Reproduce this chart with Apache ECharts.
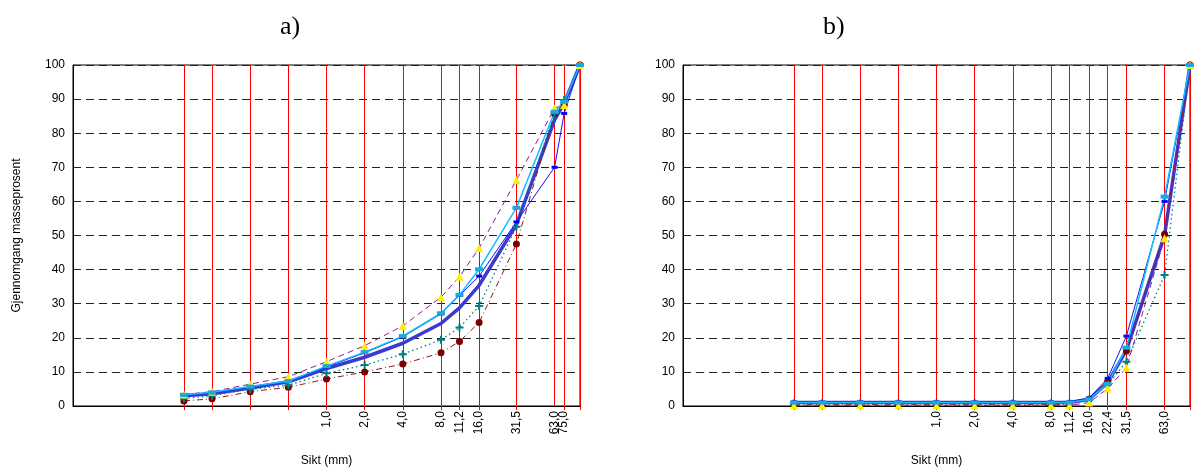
<!DOCTYPE html>
<html>
<head>
<meta charset="utf-8">
<script src="https://cdn.jsdelivr.net/npm/echarts@6/dist/echarts.min.js"></script>
<style>
  html, body { margin: 0; padding: 0; background: #fff; }
  #chart { width: 1197px; height: 468px; }
</style>
</head>
<body>
<div id="chart"></div>
<script>
// sieve sizes (mm)
var sievesA = [0.075, 0.125, 0.25, 0.5, 1, 2, 4, 8, 11.2, 16, 31.5, 63, 75, 100]
var sievesB = [0.075, 0.125, 0.25, 0.5, 1, 2, 4, 8, 11.2, 16, 22.4, 31.5, 63, 100]

// labelled sieves
var tickValsA = [1, 2, 4, 8, 11.2, 16, 31.5, 63, 75]
var tickLabelsA = ['1,0', '2,0', '4,0', '8,0', '11,2', '16,0', '31,5', '63,0', '75,0']
var tickValsB = [1, 2, 4, 8, 11.2, 16, 22.4, 31.5, 63]
var tickLabelsB = ['1,0', '2,0', '4,0', '8,0', '11,2', '16,0', '22,4', '31,5', '63,0']

// a) passing (%)
var yellowA = [3.4, 4.2, 6.4, 8.6, 13.0, 17.7, 23.5, 31.9, 37.9, 46.3, 66.3, 87.3, 88.3, 100]
var cyanA = [3.3, 4.0, 5.7, 7.3, 11.7, 15.8, 20.5, 27.2, 32.6, 40.1, 58.1, 86.3, 89.2, 100]
var blueA = [3.2, 3.9, 5.6, 7.2, 11.5, 15.6, 20.3, 27.0, 32.4, 38.1, 54.0, 70.0, 85.8, 100]
var thickA = [3.0, 3.6, 5.3, 7.1, 11.0, 14.3, 18.4, 24.2, 28.8, 35.4, 53.2, 83.9, 88.8, 100]
var tealA = [2.2, 3.0, 4.9, 6.1, 9.6, 12.0, 15.2, 19.4, 23.0, 29.3, 52.6, 85.8, 89.7, 100]
var redA = [1.5, 2.1, 4.2, 5.5, 7.9, 10.0, 12.3, 15.6, 18.9, 24.5, 47.5, 85.8, 88.3, 100]

// b) passing (%)
var yellowB = [0.2, 0.2, 0.2, 0.2, 0.2, 0.2, 0.2, 0.2, 0.2, 1.0, 5.1, 11.2, 49.2, 100]
var cyanB = [1.0, 1.0, 1.0, 1.0, 1.0, 1.0, 1.0, 1.0, 1.0, 2.0, 6.5, 17.1, 61.4, 100]
var blueB = [1.2, 1.2, 1.2, 1.2, 1.2, 1.2, 1.2, 1.2, 1.2, 2.3, 8.1, 20.5, 60.0, 100]
var thickB = [1.0, 1.0, 1.0, 1.0, 1.0, 1.0, 1.0, 1.0, 1.0, 2.0, 6.8, 16.4, 50.1, 100]
var tealB = [0.8, 0.8, 0.8, 0.8, 0.8, 0.8, 0.8, 0.8, 0.8, 1.8, 6.2, 13.0, 38.4, 100]
var redB = [0.5, 0.5, 0.5, 0.5, 0.5, 0.5, 0.5, 0.5, 0.5, 2.0, 7.1, 16.1, 50.4, 100]

var FONT = 'Liberation Sans, Arial, sans-serif'
var SERIF = 'Liberation Serif, Times New Roman, serif'
var PLUS = 'path://M3,0h2v3h3v2h-3v3h-2v-3h-3v-2h3z'

function pairs (xs, ys) {
  return xs.map(function (x, i) { return [x, ys[i]] })
}

function curves (idx, sieves, yellow, cyan, blue, thick, teal, red) {
  var base = { type: 'line', xAxisIndex: idx, yAxisIndex: idx, animation: false, silent: true, z: 3 }
  return [
    Object.assign({}, base, {
      data: pairs(sieves, thick), showSymbol: false, symbol: 'none',
      lineStyle: { color: '#3a3ad0', width: 3.5 }
    }),
    Object.assign({}, base, {
      data: pairs(sieves, red), symbol: 'circle', symbolSize: 7,
      itemStyle: { color: '#7a0000' },
      lineStyle: { color: '#8b1a1a', width: 1, type: [6, 3, 1, 3] }
    }),
    Object.assign({}, base, {
      data: pairs(sieves, teal), symbol: PLUS, symbolSize: 8,
      itemStyle: { color: '#008080' },
      lineStyle: { color: '#008080', width: 1.3, type: [1.5, 3] }
    }),
    Object.assign({}, base, {
      data: pairs(sieves, yellow), symbol: 'triangle', symbolSize: 8,
      itemStyle: { color: '#ffee00' },
      lineStyle: { color: '#8a1a9a', width: 1, type: [6, 4] }
    }),
    Object.assign({}, base, {
      data: pairs(sieves, blue), symbol: 'rect', symbolSize: [6, 3],
      itemStyle: { color: '#0000ff' },
      lineStyle: { color: '#1010ff', width: 1 }
    }),
    Object.assign({}, base, {
      data: pairs(sieves, cyan), symbol: 'rect', symbolSize: [8, 4],
      itemStyle: { color: '#1aa8e0' },
      lineStyle: { color: '#10c0ff', width: 1.5 }
    })
  ]
}

function tickLabel (vals, labels) {
  return function (v) {
    for (var i = 0; i < vals.length; i++) {
      if (Math.abs(vals[i] - v) < 1e-6 * vals[i]) return labels[i]
    }
    return ''
  }
}

function xAx (idx, sieves, vals, labels) {
  return {
    type: 'log', logBase: 10, min: 0.01, max: 100, gridIndex: idx,
    name: 'Sikt (mm)', nameLocation: 'middle', nameGap: 49,
    nameTextStyle: { fontFamily: FONT, fontSize: 12, color: '#000' },
    axisLine: { lineStyle: { color: '#000', width: 1 } },
    axisTick: {
      show: true, length: 4, customValues: sieves,
      lineStyle: { color: '#ff0000', width: 1 }
    },
    axisLabel: {
      show: true, customValues: vals, rotate: 90, margin: 5,
      hideOverlap: false, showMinLabel: true, showMaxLabel: true,
      fontFamily: FONT, fontSize: 12, color: '#000',
      formatter: tickLabel(vals, labels)
    },
    splitLine: { show: true, lineStyle: { color: '#ff0000', width: 1, type: 'solid' } }
  }
}

// label-only axis, so labels that sit close together are all drawn
function xLabelAx (idx, vals, labels) {
  return {
    type: 'log', logBase: 10, min: 0.01, max: 100, gridIndex: idx, position: 'bottom',
    axisLine: { show: false },
    axisTick: { show: false },
    splitLine: { show: false },
    axisLabel: {
      show: true, customValues: vals, rotate: 90, margin: 5,
      fontFamily: FONT, fontSize: 12, color: '#000',
      formatter: tickLabel(vals, labels)
    }
  }
}

function yAx (idx, name) {
  return {
    type: 'value', min: 0, max: 100, interval: 10, gridIndex: idx,
    name: name, nameLocation: 'middle', nameGap: 50,
    nameTextStyle: { fontFamily: FONT, fontSize: 12, color: '#000' },
    axisLine: { show: true, lineStyle: { color: '#000', width: 1 } },
    axisTick: { show: false },
    axisLabel: { fontFamily: FONT, fontSize: 12, color: '#000', margin: 8 },
    splitLine: { show: true, lineStyle: { color: '#222', width: 1, type: [8, 5] } }
  }
}

var myChart = echarts.init(document.getElementById('chart'))
var option = {
  backgroundColor: '#fff',
  animation: false,
  title: [
    { text: 'a)', left: 275, top: 9, textStyle: { fontFamily: SERIF, fontSize: 26, fontWeight: 'normal', color: '#000' } },
    { text: 'b)', left: 818, top: 9, textStyle: { fontFamily: SERIF, fontSize: 26, fontWeight: 'normal', color: '#000' } }
  ],
  grid: [
    { left: 73, right: 617, top: 65, bottom: 62, outerBoundsMode: 'none', show: true, borderColor: '#000', borderWidth: 1 },
    { left: 683, right: 7, top: 65, bottom: 62, outerBoundsMode: 'none', show: true, borderColor: '#000', borderWidth: 1 }
  ],
  xAxis: [
    xAx(0, sievesA, tickValsA, tickLabelsA),
    xAx(1, sievesB, tickValsB, tickLabelsB),
    xLabelAx(0, [63], ['63,0'])
  ],
  yAxis: [yAx(0, 'Gjennomgang masseprosent'), yAx(1, '')],
  series: []
    .concat(curves(0, sievesA, yellowA, cyanA, blueA, thickA, tealA, redA))
    .concat(curves(1, sievesB, yellowB, cyanB, blueB, thickB, tealB, redB))
}
myChart.setOption(option)
window.addEventListener('resize', function () {
  myChart.resize()
})
</script>
</body>
</html>
